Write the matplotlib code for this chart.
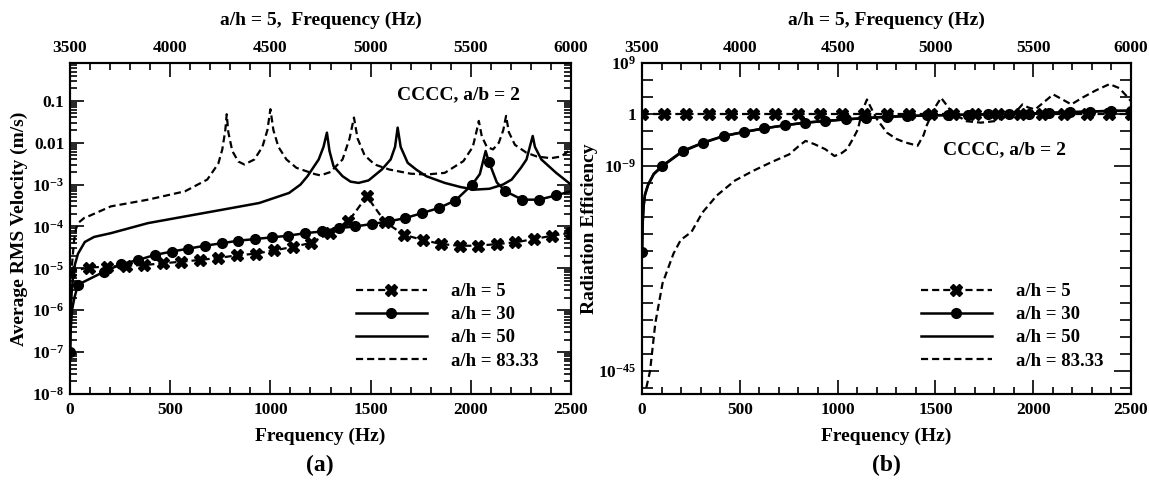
import numpy as np
import matplotlib
matplotlib.use("Agg")
import matplotlib.pyplot as plt
from matplotlib.ticker import FixedLocator, NullFormatter, MultipleLocator, LogLocator

plt.rcParams['font.family'] = ['Liberation Serif', 'DejaVu Serif']
plt.rcParams['font.weight'] = 'bold'
plt.rcParams['axes.labelweight'] = 'bold'
plt.rcParams['mathtext.fontset'] = 'custom'
plt.rcParams['mathtext.rm'] = 'Liberation Serif:bold'
plt.rcParams['mathtext.it'] = 'Liberation Serif:bold'
plt.rcParams['mathtext.bf'] = 'Liberation Serif:bold'

# ---------------- (a) average RMS velocity, log10 values ----------------
fa_5 = [0, 93, 185, 278, 370, 463, 556, 648, 741, 833, 926, 1019, 1111, 1204,
        1296, 1389, 1481, 1574, 1667, 1759, 1852, 1944, 2037, 2130, 2222, 2315, 2407, 2500]
va_5 = [-5.08, -4.98, -4.96, -4.94, -4.92, -4.88, -4.84, -4.80, -4.75, -4.69, -4.65, -4.57, -4.49, -4.39,
        -4.16, -3.88, -3.28, -3.90, -4.20, -4.32, -4.42, -4.46, -4.46, -4.42, -4.38, -4.30, -4.22, -4.15]

fa_30 = [0, 3, 10, 22, 40, 170, 255, 340, 423, 507, 590, 673, 757, 840, 923, 1007, 1090, 1173,
         1257, 1340, 1423, 1507, 1590, 1673, 1757, 1840, 1923, 2007, 2045, 2074, 2090, 2130, 2173,
         2257, 2340, 2423, 2500]
va_30 = [-7.0, -6.5, -6.0, -5.7, -5.39, -5.08, -4.90, -4.80, -4.68, -4.60, -4.53, -4.46, -4.40, -4.34,
         -4.30, -4.26, -4.22, -4.16, -4.12, -4.04, -4.00, -3.94, -3.88, -3.80, -3.68, -3.56, -3.38,
         -3.00, -2.75, -2.20, -2.45, -2.95, -3.16, -3.36, -3.36, -3.26, -3.16]
mk_30 = [0, 4, 5, 6, 7, 8, 9, 10, 11, 12, 13, 14, 15, 16, 17, 18, 19, 20, 21, 22, 23, 24, 25, 26,
         27, 30, 32, 33, 34, 35]

fa_50 = [0.5, 3, 8, 15, 25, 40, 74, 120, 204, 389, 574, 760, 944, 1093, 1150, 1185, 1241, 1265,
         1282, 1295, 1315, 1360, 1400, 1440, 1490, 1556, 1600, 1622, 1635, 1650, 1685, 1730, 1778,
         1870, 1950, 2019, 2093, 2160, 2204, 2250, 2278, 2300, 2309, 2320, 2352, 2426, 2500]
va_50 = [-7.2, -6.2, -5.6, -5.2, -4.9, -4.65, -4.37, -4.25, -4.16, -3.92, -3.76, -3.60, -3.44, -3.20,
         -3.00, -2.80, -2.40, -2.10, -1.76, -2.20, -2.56, -2.80, -2.93, -2.96, -2.90, -2.64, -2.40,
         -2.10, -1.64, -2.10, -2.48, -2.65, -2.80, -2.96, -3.06, -3.12, -3.10, -3.00, -2.88, -2.60,
         -2.40, -2.00, -1.84, -2.10, -2.40, -2.72, -3.00]

fa_83 = [5, 12, 20, 30, 45, 70, 100, 204, 389, 574, 685, 740, 760, 775, 782, 790, 810, 840, 870,
         920, 960, 985, 1000, 1015, 1040, 1080, 1130, 1222, 1250, 1300, 1360, 1395, 1417, 1435, 1470,
         1520, 1593, 1700, 1778, 1870, 1963, 2010, 2030, 2040, 2055, 2080, 2111, 2140, 2162, 2176,
         2190, 2220, 2278, 2330, 2400, 2450, 2500]
va_83 = [-5.2, -4.8, -4.35, -4.05, -3.9, -3.8, -3.74, -3.52, -3.36, -3.16, -2.88, -2.5, -2.16, -1.7,
         -1.32, -1.75, -2.2, -2.45, -2.52, -2.4, -2.1, -1.7, -1.2, -1.7, -2.1, -2.4, -2.6, -2.75,
         -2.78, -2.7, -2.4, -1.9, -1.4, -1.9, -2.3, -2.52, -2.64, -2.74, -2.76, -2.72, -2.44, -2.1,
         -1.7, -1.48, -1.85, -2.1, -2.16, -2.0, -1.7, -1.36, -1.75, -2.05, -2.24, -2.33, -2.37,
         -2.33, -2.16]

# ---------------- (b) radiation efficiency, log10 values ----------------
fb_5 = [0, 114, 227, 341, 455, 568, 682, 795, 909, 1023, 1136, 1250, 1364, 1477, 1591, 1705,
        1818, 1932, 2045, 2159, 2273, 2386, 2500]
vb_5 = [0.0] * 23

fb_30 = [0, 3, 8, 15, 31, 60, 104, 208, 313, 417, 521, 625, 729, 833, 938, 1042, 1146, 1250,
         1354, 1458, 1563, 1667, 1771, 1875, 1979, 2083, 2188, 2292, 2396, 2500]
vb_30 = [-24.2, -19.0, -16.0, -14.0, -12.3, -10.4, -9.0, -6.4, -4.94, -3.78, -3.08, -2.44, -1.92,
         -1.45, -1.16, -0.87, -0.64, -0.42, -0.30, -0.18, -0.12, -0.05, 0.0, 0.05, 0.15, 0.27,
         0.38, 0.50, 0.62, 0.64]
mk_b30 = [0] + list(range(6, 30))

fb_50 = [0, 3, 8, 15, 31, 60, 104, 208, 313, 417, 521, 625, 729, 833, 938, 1042, 1146, 1250,
         1354, 1458, 1563, 1667, 1771, 1875, 1979, 2083, 2188, 2292, 2396, 2500]
vb_50 = [-25.0, -19.5, -16.3, -14.2, -12.4, -10.5, -9.1, -6.5, -5.0, -3.82, -3.1, -2.46, -1.93,
         -1.46, -1.17, -0.88, -0.65, -0.43, -0.31, -0.19, -0.13, -0.06, 0.0, 0.05, 0.14, 0.26,
         0.37, 0.49, 0.6, 0.63]

fb_83 = [22, 41, 68, 105, 161, 198, 253, 309, 383, 475, 568, 660, 753, 800, 836, 880, 937, 984,
         1020, 1048, 1080, 1104, 1125, 1150, 1170, 1200, 1252, 1300, 1344, 1409, 1440, 1455, 1492,
         1529, 1560, 1585, 1659, 1733, 1800, 1860, 1899, 1945, 1975, 2010, 2050, 2102, 2150, 2195,
         2250, 2320, 2390, 2440, 2475, 2500]
vb_83 = [-47.9, -45.0, -36.6, -29.6, -24.4, -22.0, -20.6, -17.2, -14.2, -11.6, -9.9, -8.4, -7.0,
         -5.6, -4.65, -5.2, -6.1, -7.3, -6.8, -6.1, -4.2, -2.6, 0.5, 2.6, 1.2, -0.8, -3.2, -4.3,
         -4.9, -5.5, -3.6, -2.0, 0.9, 2.9, 1.5, 0.3, -1.2, -1.45, -1.2, -0.4, 0.0, 1.74, 1.2, 0.87,
         2.0, 3.5, 2.6, 1.74, 2.9, 4.2, 5.3, 4.6, 3.3, 2.3]

labels = ['a/h = 5', 'a/h = 30', 'a/h = 50', 'a/h = 83.33']

fig = plt.figure(figsize=(11.49, 4.84), dpi=100)
ax_a = fig.add_axes([70 / 1149, 90 / 484, 501 / 1149, 331 / 484])
ax_b = fig.add_axes([642 / 1149, 90 / 484, 489 / 1149, 331 / 484])

DASH = (3.2, 1.8)
TICK_FS = 12.5


def draw(ax, f5, v5, f30, v30, mk30, f50, v50, f83, v83):
    ax.plot(f5, 10.0 ** np.array(v5), color='black', lw=1.6, dashes=DASH,
            marker='X', ms=8, label=labels[0])
    ax.plot(f30, 10.0 ** np.array(v30), color='black', lw=1.8, marker='o', ms=7,
            markevery=mk30, label=labels[1])
    ax.plot(f50, 10.0 ** np.array(v50), color='black', lw=1.8, label=labels[2])
    ax.plot(f83, 10.0 ** np.array(v83), color='black', lw=1.6, dashes=DASH, label=labels[3])
    ax.set_xlim(0, 2500)
    ax.xaxis.set_major_locator(MultipleLocator(500))
    ax.xaxis.set_minor_locator(MultipleLocator(100))
    ax.tick_params(which='both', direction='in', right=True, labelsize=TICK_FS, width=1.2)
    ax.tick_params(axis='x', which='major', length=10, pad=6)
    ax.tick_params(axis='x', which='minor', length=5)
    ax.set_xlabel('Frequency (Hz)', fontsize=14, labelpad=7)
    for s in ax.spines.values():
        s.set_linewidth(1.5)
    top = ax.twiny()
    top.set_xlim(3500, 6000)
    top.xaxis.set_major_locator(MultipleLocator(500))
    top.xaxis.set_minor_locator(MultipleLocator(100))
    top.tick_params(which='both', direction='in', labelsize=TICK_FS, width=1.2)
    top.tick_params(which='major', length=10, pad=5)
    top.tick_params(which='minor', length=5)
    for s in top.spines.values():
        s.set_linewidth(1.5)
    ax.legend(loc='upper left', bbox_to_anchor=(0.57, 0.335), frameon=False,
              fontsize=13.5, handlelength=3.8, handletextpad=1.3, labelspacing=0.32,
              borderpad=0, borderaxespad=0)
    return top


# (a)
top_a = draw(ax_a, fa_5, va_5, fa_30, va_30, mk_30, fa_50, va_50, fa_83, va_83)
ax_a.set_yscale('log')
ax_a.set_ylim(1e-8, 0.8)
a_ticks = [1e-8, 1e-7, 1e-6, 1e-5, 1e-4, 1e-3, 1e-2, 1e-1]
a_labels = [r'$\mathregular{10^{-8}}$', r'$\mathregular{10^{-7}}$', r'$\mathregular{10^{-6}}$',
            r'$\mathregular{10^{-5}}$', r'$\mathregular{10^{-4}}$', r'$\mathregular{10^{-3}}$',
            '0.01', '0.1']
ax_a.set_yticks(a_ticks, a_labels)
ax_a.yaxis.set_minor_locator(LogLocator(base=10, subs=np.arange(2, 10), numticks=30))
ax_a.yaxis.set_minor_formatter(NullFormatter())
ax_a.tick_params(axis='y', which='major', length=10, pad=4)
ax_a.tick_params(axis='y', which='minor', length=5)
ax_a.set_ylabel('Average RMS Velocity (m/s)', fontsize=14, labelpad=3)
top_a.set_xlabel('a/h = 5,  Frequency (Hz)', fontsize=14, labelpad=11)
ax_a.text(0.898, 0.903, 'CCCC, a/b = 2', transform=ax_a.transAxes, ha='right', va='center',
          fontsize=14)

# (b)
top_b = draw(ax_b, fb_5, vb_5, fb_30, vb_30, mk_b30, fb_50, vb_50, fb_83, vb_83)
ax_b.set_yscale('log')
ax_b.set_ylim(1e-49, 1e9)
ax_b.set_yticks([1e-45, 1e-9, 1, 1e9],
                [r'$\mathregular{10^{-45}}$', r'$\mathregular{10^{-9}}$', '1', r'$\mathregular{10^{9}}$'])
ax_b.yaxis.set_minor_locator(FixedLocator([10.0 ** k for k in range(-48, 9, 3)]))
ax_b.yaxis.set_minor_formatter(NullFormatter())
ax_b.tick_params(axis='y', which='major', length=12, pad=4)
ax_b.tick_params(axis='y', which='minor', length=8)
ax_b.set_ylabel('Radiation Efficiency', fontsize=14)
ax_b.yaxis.set_label_coords(-0.09, 0.5)
top_b.set_xlabel('a/h = 5, Frequency (Hz)', fontsize=14, labelpad=11)
ax_b.text(0.868, 0.737, 'CCCC, a/b = 2', transform=ax_b.transAxes, ha='right', va='center',
          fontsize=14)

fig.text(320 / 1149, 1 - 465 / 484, '(a)', ha='center', va='center', fontsize=17)
fig.text(886 / 1149, 1 - 465 / 484, '(b)', ha='center', va='center', fontsize=17)

fig.savefig('out.png', dpi=100)
